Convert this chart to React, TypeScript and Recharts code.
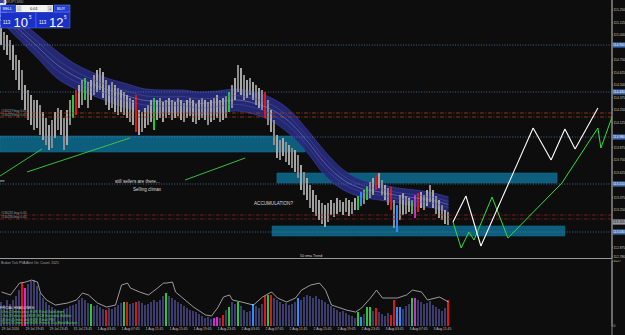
import React from 'react';
import { ComposedChart, Bar, Area, Line, XAxis, YAxis, ReferenceLine, ReferenceArea, Cell } from 'recharts';

// ---------- DATA ----------
const symbolTitle = 'EURJPY,M30';
const bidBig = '10';
const askBig = '12';

const barHigh = [
  115.07,115.03,115.00,114.95,114.90,114.80,114.75,114.65,114.50,114.45,
  114.40,114.35,114.35,114.30,114.23,114.17,114.10,114.15,114.23,114.27,
  114.25,114.17,114.25,114.35,114.40,114.45,114.50,114.55,114.57,114.53,
  114.55,114.60,114.65,114.67,114.63,114.55,114.50,114.53,114.50,114.47,
  114.45,114.43,114.40,114.37,114.35,114.40,114.25,114.23,114.27,114.30,
  114.35,114.37,114.35,114.37,114.33,114.35,114.37,114.35,114.33,114.37,
  114.35,114.32,114.35,114.37,114.35,114.31,114.35,114.37,114.35,114.33,
  114.35,114.37,114.40,114.35,114.37,114.39,114.43,114.50,114.57,114.70,
  114.67,114.60,114.55,114.57,114.53,114.50,114.47,114.45,114.43,114.35,
  114.25,114.15,114.00,113.95,113.97,113.93,113.90,113.87,113.85,113.80,
  113.70,113.63,113.57,113.50,113.45,113.40,113.35,113.32,113.30,113.32,
  113.35,113.32,113.37,113.35,113.33,113.37,113.35,113.33,113.37,113.39,
  113.43,113.45,113.49,113.53,113.57,113.60,113.62,113.55,113.50,113.47,
  113.48,113.35,113.30,113.40,113.42,113.39,113.37,113.35,113.40,113.42,
  113.43,113.40,113.45,113.50,113.45,113.39,113.35,113.30,113.25,113.23,
];
const barLow = [
  114.90,114.85,114.80,114.75,114.65,114.55,114.45,114.35,114.25,114.15,
  114.10,114.05,114.07,114.00,113.95,113.90,113.85,113.87,113.97,114.05,
  114.00,113.85,113.90,114.10,114.17,114.20,114.27,114.30,114.35,114.27,
  114.35,114.40,114.43,114.45,114.37,114.30,114.25,114.27,114.23,114.20,
  114.23,114.20,114.17,114.13,114.10,114.03,114.00,114.03,114.07,114.10,
  114.13,114.05,114.15,114.17,114.13,114.17,114.20,114.15,114.17,114.19,
  114.15,114.13,114.17,114.19,114.13,114.11,114.15,114.17,114.15,114.10,
  114.13,114.15,114.17,114.13,114.15,114.17,114.23,114.27,114.35,114.43,
  114.40,114.35,114.37,114.40,114.35,114.30,114.27,114.25,114.17,114.10,
  114.03,113.90,113.77,113.75,113.79,113.73,113.70,113.67,113.63,113.57,
  113.45,113.40,113.35,113.27,113.23,113.19,113.15,113.11,113.08,113.13,
  113.20,113.18,113.21,113.23,113.20,113.23,113.19,113.21,113.25,113.25,
  113.29,113.31,113.35,113.37,113.40,113.45,113.47,113.40,113.35,113.30,
  113.25,113.07,113.03,113.15,113.20,113.21,113.23,113.21,113.17,113.23,
  113.27,113.25,113.29,113.33,113.27,113.21,113.17,113.15,113.11,113.10,
];
const greenCandles = [24, 28, 51, 76, 119, 122, 137];
const redCandles = [25, 45, 88, 125, 130, 139];
const blueCandles = [120, 132];
const magentaCandles = [138];

const ribbonIndex = [0,6,12,18,24,30,36,42,48,54,60,66,72,78,84,90,96,102,108,114,120,126,132,138,144,149];
const ribbonHigh = [115.33,115.15,115.00,114.85,114.72,114.63,114.56,114.51,114.46,114.45,114.45,114.43,114.44,114.46,114.43,114.37,114.25,114.05,113.83,113.65,113.55,113.51,113.47,113.45,113.42,113.38];
const ribbonLow = [115.13,114.95,114.77,114.58,114.47,114.40,114.33,114.27,114.23,114.22,114.23,114.20,114.22,114.24,114.21,114.14,114.01,113.82,113.59,113.45,113.38,113.35,113.32,113.29,113.27,113.23];

const priceTicks = [115.25,115.125,115.0,114.75,114.625,114.5,114.375,114.25,114.125,113.875,113.75,113.625,113.375,113.25,112.875,112.78];
const levelPrices = [114.90, 114.43, 113.98, 113.51, 113.03];
const orderPricesUpper = [114.22, 114.18];
const orderPricesLower = [113.20, 113.16];
const currentPrice = 113.13;
const currentPriceText = '113.105';

const zoneStart = [-0.5, 91.8, 90.2];
const zoneEnd = [101.2, 185.2, 187.8];
const zoneTop = [113.99, 113.62, 113.09];
const zoneBottom = [113.83, 113.52, 112.99];

const trendX1 = [-0.5, 8.5, 61.2];
const trendP1 = [113.59, 113.63, 113.55];
const trendX2 = [13.5, 42.8, 81.2];
const trendP2 = [113.86, 113.97, 113.77];

const whiteProjIndex = [150.5, 154.8, 159.8, 177.2, 183.2, 187.8, 191.2, 198.8];
const whiteProjPrice = [113.13, 113.39, 112.89, 114.07, 113.75, 114.06, 113.86, 114.27];
const greenProjIndex = [150.5, 153.2, 155.8, 157.5, 163.5, 168.8, 186.8, 198.8, 199.8, 203.5];
const greenProjPrice = [113.13, 112.87, 113.03, 112.95, 113.38, 112.97, 113.52, 114.07, 113.87, 114.18];

const volume = [
  1670,1460,1810,1530,1810,2090,2500,3000,2650,2920,
  3130,3200,2780,2300,1950,1670,1460,1320,1180,1110,
  1040,1180,1250,1390,1460,1530,1810,1950,1810,1600,
  1530,1390,1460,1320,1180,1110,1250,1180,1320,1460,
  1600,1670,1670,1530,1600,1670,1740,1600,1460,1530,
  1670,1810,1670,1810,2090,2300,2090,1950,1810,1670,
  1530,1390,1250,1110,1040,970,830,700,560,630,
  490,560,630,560,770,1110,1320,1670,1530,1670,
  1390,1110,970,1040,1530,1390,1250,1530,2090,2160,
  2160,1950,1810,1670,1530,1600,1460,1530,1670,1950,
  1810,2020,2160,2090,1950,2090,1880,1810,1670,1530,
  1390,1250,1110,970,1040,900,770,700,560,970,
  630,830,1320,1320,1040,1250,970,830,700,900,
  770,1810,1320,1320,1180,1390,1530,1950,1950,1810,
  1670,1530,1600,1740,1460,1320,1180,1040,1250,1810,
];
const greenVol = [30, 41, 55, 76, 79, 89, 119, 122, 123, 137];
const redVol = [7, 35, 42, 45, 74, 88, 90, 125, 130, 131, 149];
const blueVol = [84, 99, 120, 132, 133];
const magentaVol = [8, 71, 72, 138];

const volMaIndex = [0,3,6,8,10,12,13,15,18,22,25,27,29,32,35,38,40,42,43,46,49,52,54,55,57,58,60,64,68,70,72,74,76,77,80,84,87,90,92,95,98,100,103,106,108,110,115,118,120,123,125,127,132,135,137,140,142,146,149];
const volMa = [2370,2160,2990,3060,3200,3060,2300,1810,1460,1600,1810,2300,2160,1600,1320,1460,2850,2990,2640,2370,2160,2640,2990,2990,3060,2370,2020,1320,770,700,1250,2020,2160,1810,1670,1460,2020,2370,1950,1670,1950,2500,2850,2990,2500,1460,1110,970,1250,1950,2500,1950,1950,2160,2500,2370,1810,2020,1670];
const volMax = 4527;

const timeLabels = ['29 Jul 2016','29 Jul 19:45','29 Jul 23:45','31 Jul 23:45','1 Aug 03:45','1 Aug 07:45','1 Aug 11:45','1 Aug 15:45','1 Aug 19:45','1 Aug 23:45','2 Aug 03:45','2 Aug 07:45','2 Aug 11:45','2 Aug 15:45','2 Aug 19:45','2 Aug 23:45','3 Aug 03:45','3 Aug 07:45','3 Aug 11:45'];

const headlines = [
  '4 hrs 25 mins since EUR: Retail Sales m/m',
  '1 hrs 35 mins until EUR: ECB Economic Bulletin',
  '18 hrs 45 mins until EUR: Retail PMI',
  '20 hrs 35 mins until EUR: French 10-y Bond Auction',
];

// ---------- BUILD ----------
const FONT = '"Liberation Sans", "DejaVu Sans", sans-serif';
const X_DOMAIN: [number, number] = [-0.5, 203.5];

const mainData = barHigh.map((h, i) => {
  const k = ribbonIndex.indexOf(i);
  const row: any = { i, range: [barLow[i], h] };
  if (k >= 0) {
    const lo = ribbonLow[k], hi = ribbonHigh[k];
    row.ribbon = [lo, hi];
    row.mid = (lo + hi) / 2;
    row.in1 = lo + (hi - lo) * 0.3;
    row.in2 = lo + (hi - lo) * 0.7;
  }
  return row;
});

const subData = volume.map((v, i) => {
  const k = volMaIndex.indexOf(i);
  return { i, vol: v, ma: k >= 0 ? volMa[k] : null };
});

const candleColor = (i: number) => {
  if (greenCandles.includes(i)) return '#27c93a';
  if (redCandles.includes(i)) return '#e01515';
  if (blueCandles.includes(i)) return '#2a8cff';
  if (magentaCandles.includes(i)) return '#d22ad8';
  return i % 2 === 0 ? '#a6a6a6' : '#8c8c8c';
};
const volColor = (i: number) => {
  if (greenVol.includes(i)) return '#25c93c';
  if (redVol.includes(i)) return '#e01515';
  if (blueVol.includes(i)) return '#2a8cff';
  if (magentaVol.includes(i)) return '#d22ad8';
  return '#3b3c6c';
};

const Tag = (props: any) => {
  const { viewBox, text, bg, color } = props;
  if (!viewBox) return null;
  const x = viewBox.x + viewBox.width;
  const y = viewBox.y;
  return (
    <g>
      <rect x={x + 0.5} y={y - 2.6} width={12.5} height={5.2} fill={bg} />
      <text x={x + 1} y={y + 1.2} fontSize={3.3} fill={color} fontFamily={FONT}>{text}</text>
    </g>
  );
};

const TimeTick = (props: any) => {
  const { x, y, payload } = props;
  const label = timeLabels[Math.round(payload.value / 8)];
  return (
    <g>
      <line x1={x} x2={x} y1={y - 1.5} y2={y} stroke="#777" strokeWidth={0.5} />
      <text x={x} y={y + 4.2} fontSize={3.4} fill="#c0c0c0" textAnchor="start" fontFamily={FONT}>{label}</text>
    </g>
  );
};

const segs = (xs: number[], ps: number[]) => xs.slice(1).map((x, k) => [{ x: xs[k], y: ps[k] }, { x, y: ps[k + 1] }]);

export default function App() {
  return (
    <div style={{ position: 'absolute', left: 0, top: 0, width: 625, height: 335, background: '#0d0d0d', overflow: 'hidden' }}>
      <div style={{ position: 'absolute', left: 0, top: 0 }}>
        <ComposedChart width={625} height={258} data={mainData} margin={{ top: 0, right: 0, bottom: 0, left: 0 }}>
          <XAxis type="number" dataKey="i" domain={X_DOMAIN} hide allowDataOverflow />
          <YAxis orientation="right" width={13} domain={[112.77, 115.35]} allowDataOverflow ticks={priceTicks} interval={0}
            tickFormatter={(v: number) => v.toFixed(3)} tick={{ fontSize: 3.3, fill: '#c4c4c4', fontFamily: FONT }}
            tickSize={1} tickMargin={0.5} axisLine={{ stroke: '#8a8a8a' }} tickLine={{ stroke: '#8a8a8a' }} />
          {zoneStart.map((s, k) => (
            <ReferenceArea key={'z' + k} x1={s} x2={zoneEnd[k]} y1={zoneBottom[k]} y2={zoneTop[k]} fill="#0d5e7d" fillOpacity={1} stroke="#11698a" strokeWidth={0.6} />
          ))}
          {levelPrices.map((p) => (
            <ReferenceLine key={'l' + p} y={p} stroke="#4d7fb8" strokeWidth={0.8} strokeDasharray="1 1.6"
              label={(lp: any) => <Tag {...lp} text={p.toFixed(3)} bg="#3a6fb4" color="#ffffff" />} />
          ))}
          {orderPricesUpper.map((p) => (
            <ReferenceLine key={'ou' + p} y={p} stroke="#a8401c" strokeWidth={0.8} strokeDasharray="4 1.5 1 1.5" />
          ))}
          {orderPricesLower.map((p) => (
            <ReferenceLine key={'ol' + p} y={p} stroke="#8e2222" strokeWidth={0.8} strokeDasharray="4 1.5 1 1.5" />
          ))}
          <ReferenceLine y={currentPrice} stroke="none"
            label={(lp: any) => <Tag {...lp} text={currentPriceText} bg="#9a9a9a" color="#111" />} />
          <Area dataKey="ribbon" type="monotone" connectNulls fill="#262a78" fillOpacity={0.95} stroke="#3b3f9f" strokeWidth={0.7} isAnimationActive={false} />
          <Line dataKey="in1" type="monotone" connectNulls dot={false} stroke="#4c52ad" strokeWidth={0.5} isAnimationActive={false} />
          <Line dataKey="in2" type="monotone" connectNulls dot={false} stroke="#4c52ad" strokeWidth={0.5} isAnimationActive={false} />
          <Line dataKey="mid" type="monotone" connectNulls dot={false} stroke="#8d93cf" strokeWidth={0.5} isAnimationActive={false} />
          <Bar dataKey="range" barSize={2} isAnimationActive={false}>
            {mainData.map((d) => <Cell key={d.i} fill={candleColor(d.i)} />)}
          </Bar>
          {trendX1.map((x, k) => (
            <ReferenceLine key={'t' + k} segment={[{ x, y: trendP1[k] }, { x: trendX2[k], y: trendP2[k] }]} stroke="#39d43c" strokeWidth={0.9} />
          ))}
          {segs(greenProjIndex, greenProjPrice).map((s, k) => (
            <ReferenceLine key={'g' + k} segment={s} stroke="#2fe03a" strokeWidth={1} ifOverflow="visible" />
          ))}
          {segs(whiteProjIndex, whiteProjPrice).map((s, k) => (
            <ReferenceLine key={'w' + k} segment={s} stroke="#ffffff" strokeWidth={1.1} ifOverflow="visible" />
          ))}
        </ComposedChart>
      </div>
      <div style={{ position: 'absolute', left: 0, top: 260 }}>
        <ComposedChart width={625} height={75} data={subData} margin={{ top: 1, right: 0, bottom: 0, left: 0 }}>
          <XAxis type="number" dataKey="i" domain={X_DOMAIN} allowDataOverflow ticks={timeLabels.map((_, k) => k * 8)} interval={0}
            tick={<TimeTick />} tickLine={false} axisLine={false} tickSize={0} tickMargin={0} height={9} />
          <YAxis orientation="right" width={13} domain={[0, volMax]} ticks={[0, volMax]} interval={0} allowDataOverflow
            tick={{ fontSize: 3.3, fill: '#c4c4c4', fontFamily: FONT }} tickSize={1} tickMargin={0.5}
            axisLine={{ stroke: '#8a8a8a' }} tickLine={{ stroke: '#8a8a8a' }} />
          <Bar dataKey="vol" barSize={2} isAnimationActive={false}>
            {subData.map((d) => <Cell key={d.i} fill={volColor(d.i)} />)}
          </Bar>
          <Line dataKey="ma" type="linear" connectNulls dot={false} stroke="#d6d6d6" strokeWidth={0.7} isAnimationActive={false} />
        </ComposedChart>
      </div>
      <svg width={625} height={335} style={{ position: 'absolute', left: 0, top: 0, pointerEvents: 'none' }} fontFamily={FONT}>
        <line x1={612} x2={612} y1={0} y2={335} stroke="#8a8a8a" strokeWidth={1} />
        <line x1={0} x2={612} y1={258.5} y2={258.5} stroke="#9a9a9a" strokeWidth={1.2} />
        <text x={3} y={3} fontSize={3.4} fill="#9a9a9a">{symbolTitle}</text>
        {/* trade panel */}
        <rect x={0.5} y={5} width={15} height={7} fill="#1f3fd6" stroke="#6c86ff" strokeWidth={0.5} />
        <text x={2.5} y={10} fontSize={4} fill="#fff">SELL</text>
        <rect x={16} y={5} width={37} height={7} fill="#f2f2f2" />
        <rect x={16.5} y={5.5} width={5} height={6} fill="#cfcfcf" />
        <rect x={47.5} y={5.5} width={5} height={6} fill="#cfcfcf" />
        <text x={18} y={10} fontSize={4} fill="#333">-</text>
        <text x={49} y={10} fontSize={4} fill="#333">+</text>
        <text x={30} y={10} fontSize={4} fill="#111">0.01</text>
        <rect x={54} y={5} width={16} height={7} fill="#1f3fd6" stroke="#6c86ff" strokeWidth={0.5} />
        <text x={57} y={10} fontSize={4} fill="#fff">BUY</text>
        <rect x={0.5} y={12.5} width={35} height={15.5} fill="#1b30c6" stroke="#5a73ff" strokeWidth={0.5} />
        <rect x={36} y={12.5} width={34} height={15.5} fill="#1b30c6" stroke="#5a73ff" strokeWidth={0.5} />
        <text x={3} y={24} fontSize={4.5} fill="#fff">113</text>
        <text x={13.5} y={26.5} fontSize={13} fill="#fff">{bidBig}</text>
        <text x={29} y={18.5} fontSize={4.5} fill="#fff">5</text>
        <text x={39} y={24} fontSize={4.5} fill="#fff">113</text>
        <text x={49} y={26.5} fontSize={13} fill="#fff">{askBig}</text>
        <text x={64} y={18.5} fontSize={4.5} fill="#fff">5</text>
        {/* order labels */}
        <text x={1} y={111.8} fontSize={3.2} fill="#a0a0a0">#130229 buy 0.05</text>
        <text x={1} y={116} fontSize={3.2} fill="#a0a0a0">#130228 buy 0.05</text>
        <text x={1} y={213.8} fontSize={3.2} fill="#a0a0a0">#130231 buy 0.05</text>
        <text x={1} y={218} fontSize={3.2} fill="#a0a0a0">#130230 buy 0.05</text>
        <text x={0} y={182} fontSize={4.2} fill="#d8d8d8">ee</text>
        {/* annotations */}
        <text x={115} y={182.5} fontSize={4.6} fill="#dcdcdc">still sellers are there...</text>
        <text x={133} y={191} fontSize={4.6} fill="#dcdcdc">Selling climax</text>
        <text x={254} y={205} fontSize={4.6} fill="#dcdcdc">ACCUMULATION?</text>
        <text x={300} y={256.5} fontSize={3.6} fill="#cfcfcf">50 ema Trend</text>
        {/* indicator texts */}
        <text x={1} y={264} fontSize={3.4} fill="#a8a8a8">Broker Tick PVA     Alert On:   Count:  2021</text>
        <text x={0} y={309} fontSize={3.5} fill="#e0e0e0">FFICIAL HEADLINES:</text>
        {headlines.map((h, k) => (
          <text key={h} x={1} y={313 + k * 3.8} fontSize={3.3} fill="#3fdc3f">{h}</text>
        ))}
      </svg>
    </div>
  );
}
